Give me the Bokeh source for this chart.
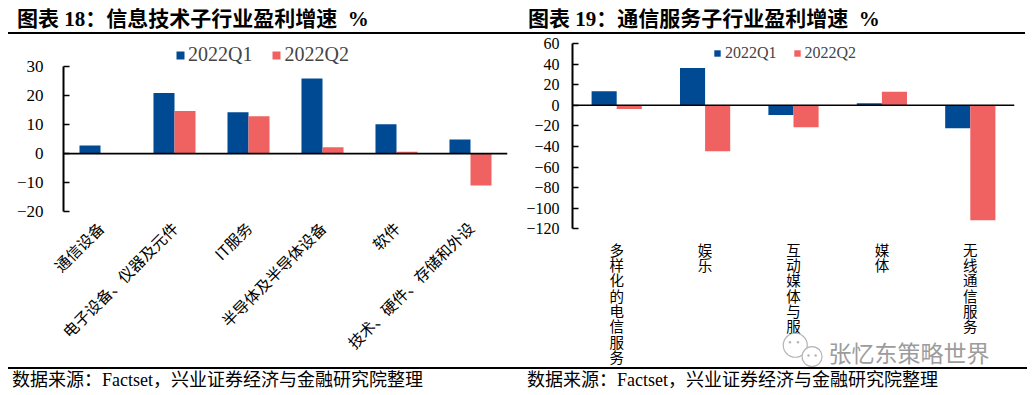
import math
from bokeh.plotting import figure
from bokeh.models import (Range1d, FactorRange, Span, Label, Legend, LegendItem,
                          FixedTicker, ColumnDataSource, Div)
from bokeh.layouts import row, column
from bokeh.transform import dodge
from bokeh.core.properties import value
from bokeh.embed import file_html
from bokeh.resources import INLINE

# ---------------- data ----------------
left_cats = ["通信设备", "电子设备、仪器及元件", "IT服务", "半导体及半导体设备", "软件", "技术、硬件、存储和外设"]
left_q1 = [2.8, 20.9, 14.3, 25.9, 10.1, 4.9]
left_q2 = [0.0, 14.7, 12.9, 2.2, 0.6, -11.0]
left_ticks = [-20, -10, 0, 10, 20, 30]

right_cats = ["多样化的电信服务", "娱乐", "互动媒体与服务", "媒体", "无线通信服务"]
right_q1 = [13.6, 36.3, -9.4, 1.9, -22.4]
right_q2 = [-3.6, -44.7, -21.4, 13.2, -111.6]
right_ticks = [-120, -100, -80, -60, -40, -20, 0, 20, 40, 60]

series_names = ["2022Q1", "2022Q2"]
left_title = "图表 18：信息技术子行业盈利增速&nbsp;&nbsp;%"
right_title = "图表 19：通信服务子行业盈利增速&nbsp;&nbsp;%"
source_note = "数据来源：Factset，兴业证券经济与金融研究院整理"
watermark = "张忆东策略世界"

BLUE = "#004A94"
RED = "#F06262"
SERIF = "Liberation Serif"
CJK = "Noto Sans CJK SC"
CSS_FONT = "'Liberation Serif', 'Noto Sans CJK SC', serif"
BAR_W = 0.284


def title_div(text, width, line_width, pad):
    return Div(text=f'<div style="position:relative;width:{width}px;height:26px;margin:0;padding:0">'
                    f'<div style="font-family:{CSS_FONT};font-size:21px;font-weight:bold;'
                    f'line-height:22px;height:22px;padding-left:{pad}px;white-space:nowrap;'
                    f'color:black;margin:0">{text}</div>'
                    f'<div style="position:absolute;left:0;top:24px;width:{line_width}px;height:2px;'
                    f'background-color:#000;z-index:10"></div></div>',
               width=width, height=26, margin=0)


def footer_div(width, pad):
    return Div(text=f'<div style="font-family:{CSS_FONT};font-size:18px;line-height:22px;'
                    f'height:22px;width:{width - pad}px;padding-left:{pad}px;white-space:nowrap;'
                    f'color:black;margin:0;border-top:2px solid #000;box-sizing:content-box">'
                    f'{source_note}</div>', width=width, height=24, margin=0)


def style_yaxis(p, ticks, bounds, size, standoff):
    ya = p.yaxis[0]
    ya.ticker = FixedTicker(ticks=ticks)
    ya.bounds = bounds
    ya.axis_line_width = 2
    ya.axis_line_color = "black"
    ya.major_tick_in = 6
    ya.major_tick_out = 0
    ya.major_tick_line_width = 1.6
    ya.major_tick_line_color = "black"
    ya.minor_tick_line_color = None
    ya.major_label_text_font = SERIF
    ya.major_label_text_font_size = f"{size}px"
    ya.major_label_text_color = "black"
    ya.major_label_standoff = standoff


def add_bars(p, src):
    r1 = p.vbar(x=dodge("cat", -BAR_W / 2, range=p.x_range), top="q1", bottom=0, width=BAR_W,
                source=src, fill_color=BLUE, line_color=None)
    r2 = p.vbar(x=dodge("cat", BAR_W / 2, range=p.x_range), top="q2", bottom=0, width=BAR_W,
                source=src, fill_color=RED, line_color=None)
    p.add_layout(Span(location=0, dimension="width", line_color="black", line_width=1.6))
    return r1, r2


def add_legend(p, r1, r2, loc, glyph, size, spacing, standoff):
    legend = Legend(items=[LegendItem(label=series_names[0], renderers=[r1]),
                           LegendItem(label=series_names[1], renderers=[r2])],
                    orientation="horizontal", location=loc,
                    glyph_width=glyph, glyph_height=glyph, label_standoff=standoff,
                    spacing=spacing, padding=0, margin=0, border_line_color=None,
                    background_fill_alpha=0, label_text_font=SERIF,
                    label_text_font_size=f"{size}px", label_height=20)
    p.add_layout(legend)


# ---------------- left panel ----------------
LW = 507
lsrc = ColumnDataSource(dict(cat=left_cats, q1=left_q1, q2=left_q2))
lp = figure(width=LW, height=333, x_range=FactorRange(*left_cats), y_range=Range1d(-20, 40.45),
            output_backend="svg", toolbar_location=None,
            min_border_left=55, min_border_right=8, min_border_top=2, min_border_bottom=156)
lp.outline_line_color = None
lp.grid.visible = False
lr1, lr2 = add_bars(lp, lsrc)
style_yaxis(lp, left_ticks, (-20, 30), 17, 20)
xa = lp.xaxis[0]
xa.axis_line_color = None
xa.major_tick_line_color = None
xa.minor_tick_line_color = None
xa.major_label_text_font = CJK
xa.major_label_text_font_size = "15.5px"
xa.major_label_text_color = "black"
xa.major_label_orientation = math.pi / 4
xa.major_label_standoff = 7
add_legend(lp, lr1, lr2, (112, 145), 10, 20, 19, 3)

left_col = column(title_div(left_title, LW, LW, 9), lp, footer_div(LW, 4), spacing=0)

# ---------------- right panel ----------------
RW = 512
rsrc = ColumnDataSource(dict(cat=right_cats, q1=right_q1, q2=right_q2,
                             label=["\n".join(list(c)) for c in right_cats]))
rp = figure(width=RW, height=333, x_range=FactorRange(*right_cats), y_range=Range1d(-254.6, 60),
            output_backend="svg", toolbar_location=None,
            min_border_left=57, min_border_right=13, min_border_top=9, min_border_bottom=0)
rp.outline_line_color = None
rp.grid.visible = False
rp.xaxis.visible = False
rr1, rr2 = add_bars(rp, rsrc)
style_yaxis(rp, right_ticks, (-120, 60), 16, 13)
LABEL_Y = -129.5
rp.text(x="cat", y=LABEL_Y, text="label", source=rsrc, text_align="center",
        text_baseline="top", text_font=value(CJK), text_font_size="14.5px",
        text_line_height=0.73, text_color="black")
# watermark (WeChat-style bubbles + text)
rp.scatter(x=[2.52, 2.71], y=[-233, -244], size=[24, 20], marker="circle",
           fill_color="white", line_color="#b5b5b5", line_width=1.2)
rp.scatter(x=[2.46, 2.55, 2.67, 2.75], y=[-230, -230, -243, -243], size=2.5, marker="circle",
           fill_color="#b5b5b5", line_color=None)
rp.add_layout(Label(x=256, y=16, x_units="screen", y_units="screen", text=watermark,
                    text_font=CJK, text_font_size="23px", text_baseline="middle",
                    text_color="#9c9c9c", background_fill_color="white", background_fill_alpha=1))
add_legend(rp, rr1, rr2, (141, 304), 8, 16, 16, 4)

right_col = column(title_div(right_title, RW, 510, 13), rp, footer_div(RW, 12), spacing=0)

layout = row(left_col, right_col, spacing=0, margin=(8, 0, 0, 8))
open("out.html", "w").write(file_html(layout, INLINE))
